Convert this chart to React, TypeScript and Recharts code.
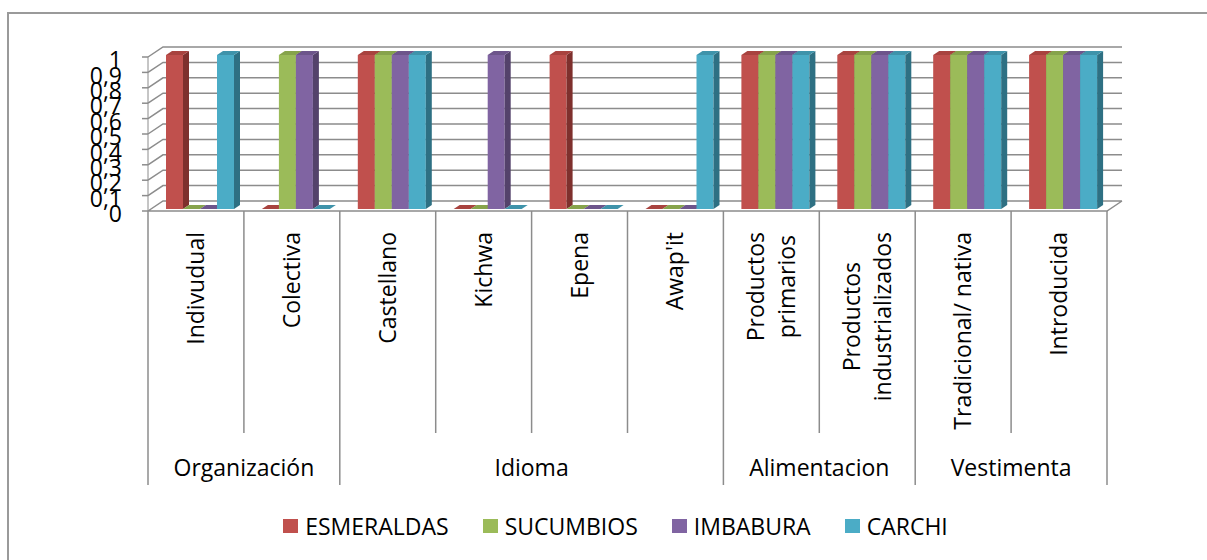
import { BarChart, Bar, XAxis, YAxis, CartesianGrid, Legend } from 'recharts';

// categories (\n = line break in the axis label) and their group headers
const categories = [
  'Indivudual',
  'Colectiva',
  'Castellano',
  'Kichwa',
  'Epena',
  "Awap'it",
  'Productos\nprimarios',
  'Productos\nindustrializados',
  'Tradicional/ nativa',
  'Introducida',
];
const groupLabels = ['Organización', 'Idioma', 'Alimentacion', 'Vestimenta'];
const groupSpans = [2, 4, 2, 2];

const esmeraldas = [1, 0, 1, 0, 1, 0, 1, 1, 1, 1];
const sucumbios = [0, 1, 1, 0, 0, 0, 1, 1, 1, 1];
const imbabura = [0, 1, 1, 1, 0, 0, 1, 1, 1, 1];
const carchi = [1, 0, 1, 0, 0, 1, 1, 1, 1, 1];

const yTicks = [0, 0.1, 0.2, 0.3, 0.4, 0.5, 0.6, 0.7, 0.8, 0.9, 1];

const series = [
  { key: 'ESMERALDAS', values: esmeraldas, front: '#C0504D', side: '#7E302D', top: '#A8433F' },
  { key: 'SUCUMBIOS', values: sucumbios, front: '#9BBB59', side: '#677D3A', top: '#86A34B' },
  { key: 'IMBABURA', values: imbabura, front: '#8064A2', side: '#54426B', top: '#6D558B' },
  { key: 'CARCHI', values: carchi, front: '#4BACC6', side: '#2E7083', top: '#3F93AA' },
];
const seriesOrder = series.map((s) => s.key);

const data = categories.map((c, i) => {
  const row: Record<string, string | number> = { name: c };
  series.forEach((s) => (row[s.key] = s.values[i]));
  return row;
});

const FONT = '"Open Sans", sans-serif';
const GRAY = '#8c8c8c';
const W = 1207;
const H = 560;
const PLOT_LEFT = 148;
const PLOT_RIGHT = 1107;
const PLOT_TOP = 57;
const PLOT_BOTTOM = 211;
const BAND = (PLOT_RIGHT - PLOT_LEFT) / categories.length;
// 3d look
const DEPTH_X = 15;
const DEPTH_Y = 10;
const BAR_DX = 6;
const BAR_DY = 4;
const BAR_SHIFT_X = 5;
const BAR_SHIFT_Y = -2;

let ctx: CanvasRenderingContext2D | null = null;
function textWidth(s: string, font: string) {
  if (!ctx) ctx = document.createElement('canvas').getContext('2d');
  if (!ctx) return s.length * 11;
  ctx.font = font;
  return ctx.measureText(s).width;
}

function wallLine(props: any) {
  const { x1, y1, x2, index } = props;
  let d = `M${x1},${y1} L${x1 + DEPTH_X},${y1 - DEPTH_Y} L${x2 + DEPTH_X},${y1 - DEPTH_Y}`;
  if (Math.abs(y1 - PLOT_BOTTOM) < 1) {
    // floor front edge + right edge
    d += ` M${x1},${y1} L${x2},${y1} L${x2 + DEPTH_X},${y1 - DEPTH_Y}`;
  }
  return <path key={`wall-${index}`} d={d} stroke={GRAY} strokeWidth={1.5} fill="none" />;
}

function makeBar3D(front: string, side: string, top: string) {
  return (props: any) => {
    const { x, y, width, height } = props;
    const bx = x + BAR_SHIFT_X;
    const by = y + BAR_SHIFT_Y;
    const bb = by + height;
    return (
      <g>
        {height > 0 && <rect x={bx} y={by} width={width} height={height} fill={front} />}
        {height > 0 && (
          <polygon
            points={`${bx + width},${by} ${bx + width + BAR_DX},${by - BAR_DY} ${bx + width + BAR_DX},${bb - BAR_DY} ${bx + width},${bb}`}
            fill={side}
          />
        )}
        <polygon
          points={`${bx},${by} ${bx + BAR_DX},${by - BAR_DY} ${bx + width + BAR_DX},${by - BAR_DY} ${bx + width},${by}`}
          fill={top}
        />
      </g>
    );
  };
}

const groupStarts = groupSpans.map((_, g) => groupSpans.slice(0, g).reduce((a, b) => a + b, 0));

function CategoryTick(props: any) {
  const { x, y, payload } = props;
  const i = payload.index;
  const left = x - BAND / 2;
  const lines = String(payload.value).split('\n');
  const fontSize = 23;
  const labelTop = y + 21;
  const g = groupStarts.indexOf(i);
  const out: any[] = [];

  out.push(
    <line key="div" x1={left} y1={y} x2={left} y2={g >= 0 ? 485 : 433} stroke={GRAY} strokeWidth={1.5} />
  );
  if (i === categories.length - 1) {
    out.push(<line key="end" x1={left + BAND} y1={y} x2={left + BAND} y2={485} stroke={GRAY} strokeWidth={1.5} />);
  }

  if (lines.length === 1) {
    out.push(
      <text
        key="lbl"
        x={x}
        y={labelTop}
        transform={`rotate(-90 ${x} ${labelTop})`}
        textAnchor="end"
        dy="0.35em"
        fontSize={fontSize}
        fontFamily={FONT}
        fill="#000"
      >
        {lines[0]}
      </text>
    );
  } else {
    const widest = Math.max(...lines.map((l) => textWidth(l, `${fontSize}px ${FONT}`)));
    const cy = labelTop + widest / 2;
    const lineH = 31;
    lines.forEach((l, k) => {
      const px = x + (k - (lines.length - 1) / 2) * lineH;
      out.push(
        <text
          key={`lbl${k}`}
          x={px}
          y={cy}
          transform={`rotate(-90 ${px} ${cy})`}
          textAnchor="middle"
          dy="0.35em"
          fontSize={fontSize}
          fontFamily={FONT}
          fill="#000"
        >
          {l}
        </text>
      );
    });
  }

  if (g >= 0) {
    out.push(
      <text key="grp" x={left + (groupSpans[g] * BAND) / 2} y={476} textAnchor="middle" fontSize={fontSize} fontFamily={FONT} fill="#000">
        {groupLabels[g]}
      </text>
    );
  }
  return <g>{out}</g>;
}

function LegendContent(props: any) {
  const items = [...(props.payload ?? [])].sort(
    (a: any, b: any) => seriesOrder.indexOf(a.value) - seriesOrder.indexOf(b.value)
  );
  return (
    <div
      style={{
        display: 'flex',
        justifyContent: 'center',
        alignItems: 'center',
        height: 30,
        paddingLeft: 24,
        fontFamily: FONT,
        fontSize: 23,
        color: '#000',
        whiteSpace: 'nowrap',
      }}
    >
      {items.map((it: any, i: number) => (
        <div key={it.value} style={{ display: 'flex', alignItems: 'center', marginLeft: i ? 34 : 0 }}>
          <span style={{ width: 15, height: 14, background: it.color, marginRight: 7, display: 'inline-block' }} />
          {it.value}
        </div>
      ))}
    </div>
  );
}

export default function App() {
  return (
    <div style={{ position: 'absolute', left: 0, top: 0, width: W, height: H, background: '#fff', overflow: 'hidden' }}>
      <div
        style={{
          position: 'absolute',
          left: 7,
          top: 12,
          width: W + 20,
          height: H + 20,
          borderLeft: '2px solid #9a9a9a',
          borderTop: '2px solid #9a9a9a',
        }}
      />
      <div style={{ position: 'absolute', left: 0, top: 0 }}>
        <BarChart
          width={W}
          height={H}
          data={data}
          margin={{ top: PLOT_TOP, right: W - PLOT_RIGHT, left: PLOT_LEFT - 100, bottom: 19 }}
          barCategoryGap={13}
          barGap={0}
        >
          <CartesianGrid vertical={false} horizontal={wallLine} />
          <XAxis
            dataKey="name"
            height={300}
            interval={0}
            tickSize={0}
            tickMargin={0}
            axisLine={false}
            tickLine={false}
            tick={CategoryTick}
          />
          <YAxis
            width={100}
            domain={[0, 1]}
            ticks={yTicks}
            interval={0}
            tickSize={6}
            tickMargin={20}
            tickFormatter={(v: number) => String(v).replace('.', ',')}
            tick={{ fontSize: 23, fill: '#000', fontFamily: FONT, dy: 3 }}
            axisLine={{ stroke: GRAY, strokeWidth: 1 }}
            tickLine={{ stroke: GRAY, strokeWidth: 1.5 }}
          />
          <Legend verticalAlign="bottom" content={LegendContent} wrapperStyle={{ left: 0, width: W }} />
          {series.map((s) => (
            <Bar
              key={s.key}
              dataKey={s.key}
              fill={s.front}
              isAnimationActive={false}
              shape={makeBar3D(s.front, s.side, s.top)}
            />
          ))}
        </BarChart>
      </div>
    </div>
  );
}
